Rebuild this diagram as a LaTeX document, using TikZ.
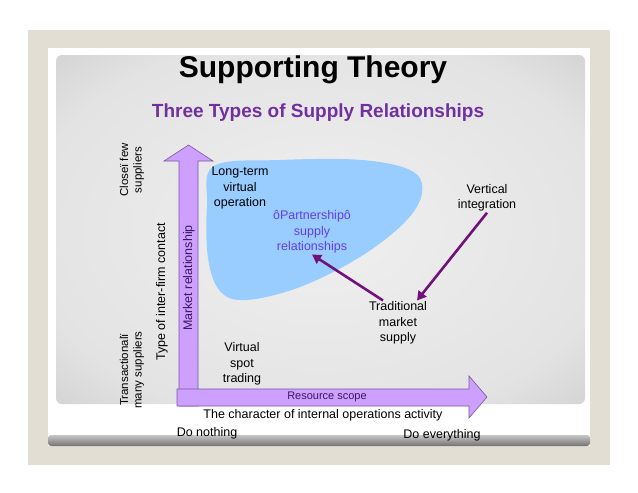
\documentclass[tikz,border=0pt]{standalone}
\usepackage{fontspec}
\setmainfont{Liberation Sans}
\usetikzlibrary{arrows.meta}
\definecolor{slidebeige}{RGB}{227,222,212}
\definecolor{blobblue}{RGB}{153,204,255}
\definecolor{arrowfill}{RGB}{204,160,252}
\definecolor{arrowline}{RGB}{125,85,165}
\definecolor{subpurple}{RGB}{112,48,160}
\definecolor{darkpurple}{RGB}{112,18,122}
\definecolor{partblue}{RGB}{100,62,228}
\definecolor{labelpurple}{RGB}{60,22,100}
\pgfdeclareradialshading{panelshade}{\pgfpoint{0bp}{0bp}}{color(0bp)=(black!6); color(28bp)=(black!11); color(50bp)=(black!28); color(71bp)=(black!40)}
\begin{document}
\begin{tikzpicture}[x=1pt,y=-1pt,
  lbl/.style={inner sep=1pt,align=center,font=\fontsize{12.5}{15.5}\selectfont},
  sidelbl/.style={inner sep=1pt,align=center,rotate=90,font=\fontsize{11.5}{13.5}\selectfont},
  blockarrow/.style={fill=arrowfill,draw=arrowline,line width=0.6pt},
  conn/.style={draw=darkpurple,line width=2.6pt,-{Triangle[length=9pt,width=10pt]}}]
\useasboundingbox (0,0) rectangle (638,493);
\fill[white] (0,0) rectangle (638,493);
% slide frame
\fill[slidebeige] (28,30) rectangle (610,465);
\fill[white] (48,48) rectangle (590,446);
\shade[top color=black!22,bottom color=black!55,rounded corners=3pt] (48,435) rectangle (590,446);
\fill[white] (48,430) rectangle (590,435);
\shade[shading=panelshade,rounded corners=6pt] (56,55) rectangle (585,404);
% titles
\node (title) at (313,70) [font=\fontsize{30}{34}\selectfont\bfseries] {Supporting Theory};
\node (subtitle) at (318,113) [text=subpurple,font=\fontsize{19}{22}\selectfont\bfseries] {Three Types of Supply Relationships};
% blue region
\fill[blobblue] plot[smooth cycle,tension=0.6] coordinates {(214,166) (280,160) (362,160) (412,171) (422,193) (405,222) (360,257) (300,287) (246,300) (220,291) (208,258) (207,205)};
% axes
\draw[blockarrow] (179,406) -- (179,161) -- (164,161) -- (188.5,145) -- (213,161) -- (198,161) -- (198,406) -- cycle;
\draw[blockarrow] (177,389) -- (469,389) -- (469,376) -- (487,397) -- (469,418) -- (469,406) -- (177,406) -- cycle;
\node (market) at (189,278) [sidelbl,text=labelpurple,font=\fontsize{12.5}{15}\selectfont] {Market relationship};
\node (scope) at (327,397) [lbl,text=labelpurple,font=\fontsize{11}{13}\selectfont] {Resource scope};
% axis texts
\node (close) at (132,170) [sidelbl] {Closeï few\\suppliers};
\node (trans) at (132,370) [sidelbl] {Transactionalï\\many suppliers};
\node (contact) at (162,292) [sidelbl,font=\fontsize{12.5}{15}\selectfont] {Type of inter-firm contact};
\node (character) at (323,415) [lbl] {The character of internal operations activity};
\node (nothing) at (207,433) [lbl] {Do nothing};
\node (everything) at (442,435) [lbl] {Do everything};
% supply relationships
\node (longterm) at (240,188) [lbl] {Long-term\\virtual\\operation};
\node (partner) at (312,232) [lbl,text=partblue] {ôPartnershipô\\supply\\relationships};
\node (vertical) at (487,198) [lbl] {Vertical\\integration};
\node (trad) at (398,323) [lbl] {Traditional\\market\\supply};
\node (spot) at (242,364) [lbl] {Virtual\\spot\\trading};
\draw[conn] ([xshift=-15pt]trad.north) -- (partner.south);
\draw[conn] (vertical.south) -- ([xshift=19pt]trad.north);
\end{tikzpicture}
\end{document}
